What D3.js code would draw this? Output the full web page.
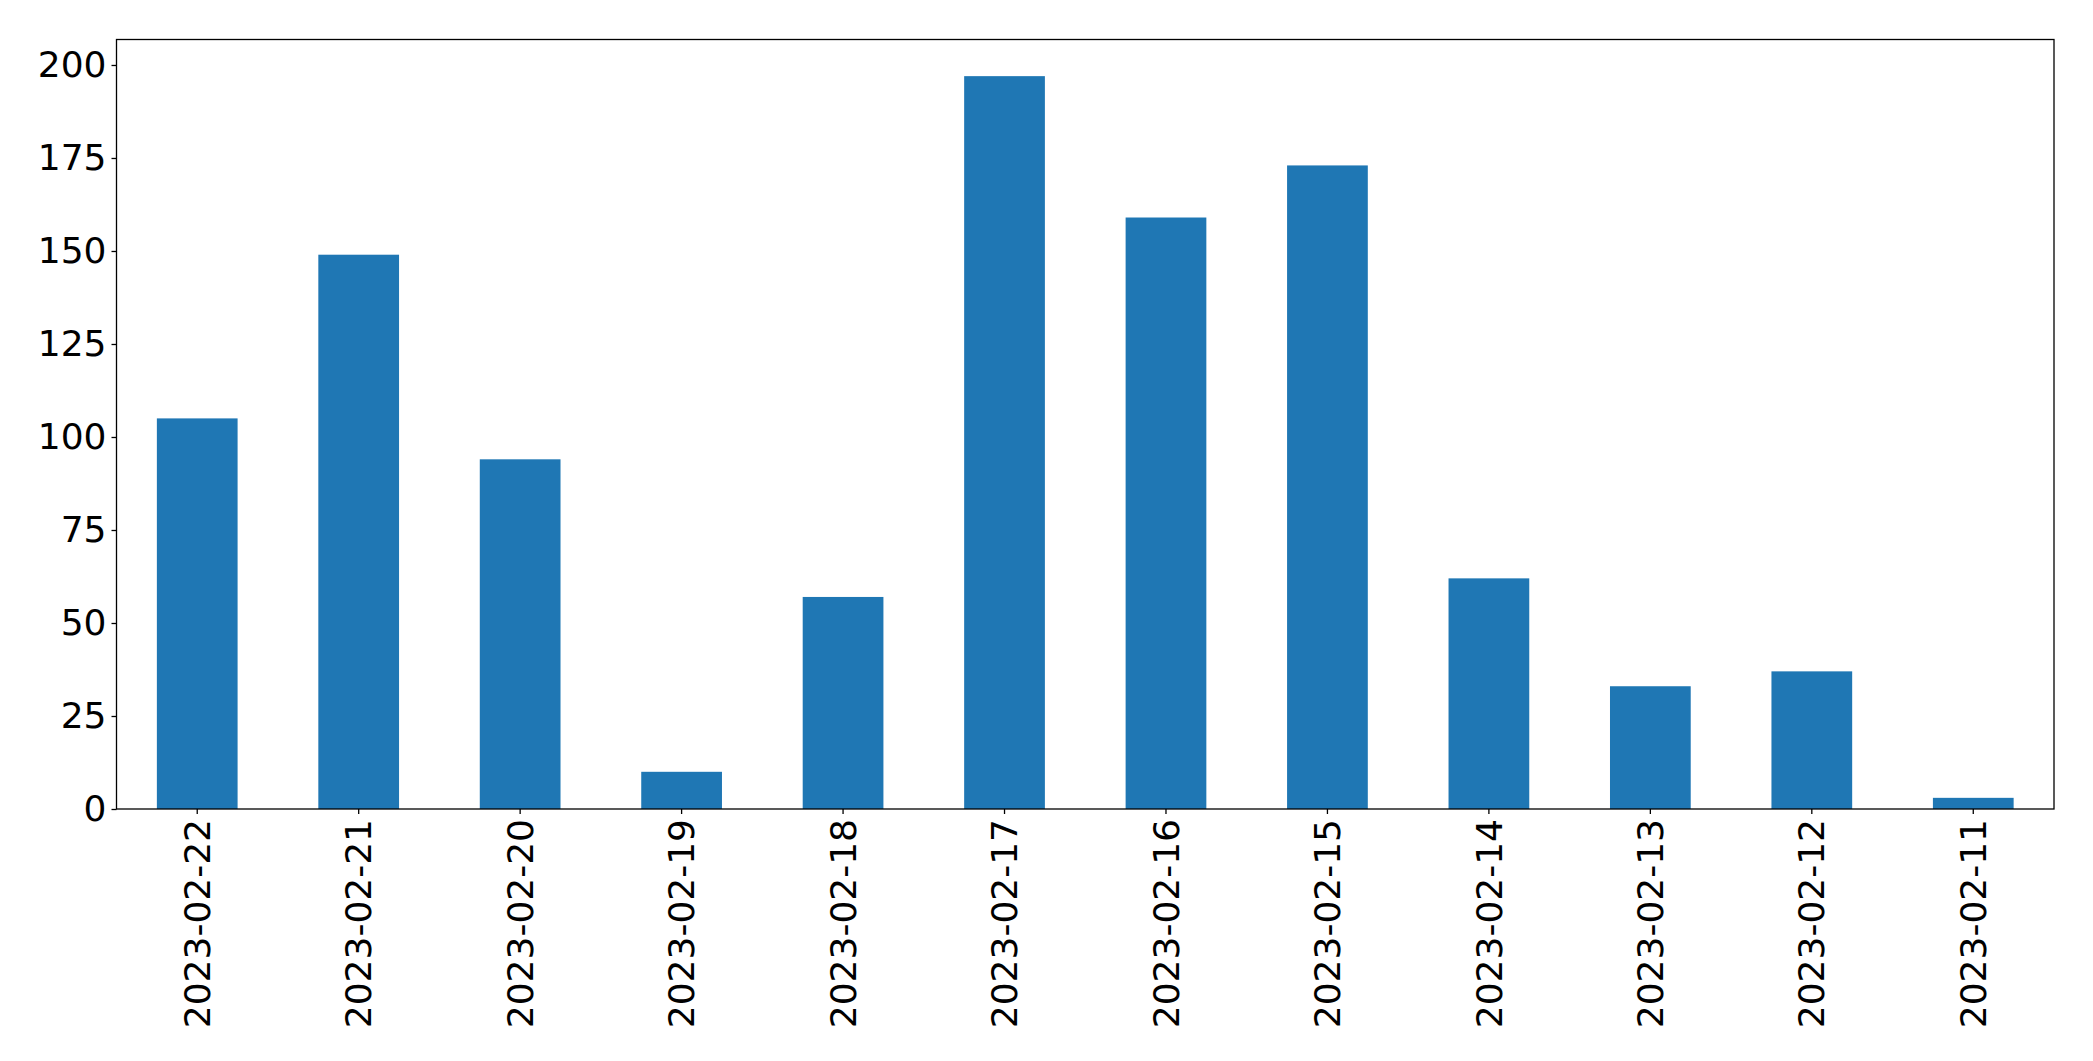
<!DOCTYPE html>
<html>
<head>
<meta charset="utf-8">
<script src="https://cdn.jsdelivr.net/npm/d3@7"></script>
<style>
  html, body { margin: 0; padding: 0; background: #fff; }
  svg { display: block; }
  text { font-family: "DejaVu Sans", sans-serif; }
</style>
</head>
<body>
<svg id="chart" width="2093" height="1061"></svg>
<script>
const categories = ["2023-02-22","2023-02-21","2023-02-20","2023-02-19","2023-02-18","2023-02-17","2023-02-16","2023-02-15","2023-02-14","2023-02-13","2023-02-12","2023-02-11"];
const values = [105, 149, 94, 10, 57, 197, 159, 173, 62, 33, 37, 3];
const yTicks = [0, 25, 50, 75, 100, 125, 150, 175, 200];

const margin = { left: 116.5, top: 39.5, right: 2093 - 2054, bottom: 1061 - 809 };
const width = 2093 - margin.left - margin.right;
const height = 1061 - margin.top - margin.bottom;
const fontSize = 36;

const svg = d3.select("#chart");
const g = svg.append("g").attr("transform", `translate(${margin.left},${margin.top})`);

const x = d3.scaleBand().domain(categories).range([0, width]).paddingInner(0.5).paddingOuter(0.25);
const yMax = d3.max(values) * 1.05;
const y = d3.scaleLinear().domain([0, yMax]).range([height, 0]);

g.selectAll("rect.bar").data(values).join("rect")
  .attr("class", "bar")
  .attr("x", (d, i) => x(categories[i]))
  .attr("width", x.bandwidth())
  .attr("y", d => y(d))
  .attr("height", d => y(0) - y(d))
  .attr("fill", "#1f77b4");

const yAxis = g.append("g").call(d3.axisLeft(y).tickValues(yTicks).tickSize(5).tickPadding(5));
yAxis.select(".domain").remove();
yAxis.selectAll("text").attr("font-size", fontSize).attr("fill", "#000").attr("font-family", "DejaVu Sans");
yAxis.selectAll("line").attr("stroke", "#000").attr("stroke-width", 1.3);

const xAxis = g.append("g").attr("transform", `translate(0,${height})`)
  .call(d3.axisBottom(x).tickSize(5).tickPadding(10));
xAxis.select(".domain").remove();
xAxis.selectAll("line").attr("stroke", "#000").attr("stroke-width", 1.3);
xAxis.selectAll("text")
  .attr("font-size", fontSize).attr("fill", "#000").attr("font-family", "DejaVu Sans")
  .attr("transform", "rotate(-90)")
  .attr("text-anchor", "end")
  .attr("x", -10)
  .attr("y", 0)
  .attr("dy", "0.35em");

g.append("rect")
  .attr("x", 0).attr("y", 0).attr("width", width).attr("height", height)
  .attr("fill", "none").attr("stroke", "#000").attr("stroke-width", 1.3);
</script>
</body>
</html>
